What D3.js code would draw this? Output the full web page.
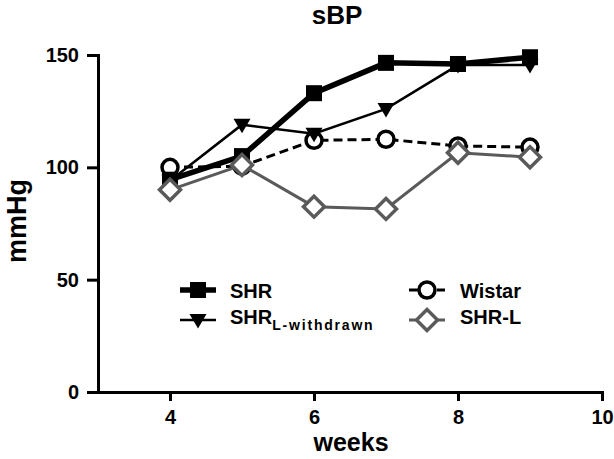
<!DOCTYPE html>
<html><head><meta charset="utf-8">
<script src="https://cdn.jsdelivr.net/npm/d3@7"></script>
<style>
body{margin:0;background:#fff;}
text{font-family:"Liberation Sans",Arial,Helvetica,sans-serif;font-weight:bold;}
</style></head>
<body><svg id="c" width="614" height="459"></svg>
<script>
const weeks = [4,5,6,7,8,9];
const shr = [94.5,105,133,146.5,146,149];
const shrWithdrawn = [94,119,115,126,145.5,145.5];
const wistar = [100,100.5,112,112.5,109.5,109];
const shrL = [90,101,82.5,81.5,106.5,104.5];
const xTicks = [4,6,8,10];
const yTicks = [0,50,100,150];

const svg = d3.select("#c");
const x = d3.scaleLinear().domain([3,10]).range([98,602]);
const y = d3.scaleLinear().domain([0,150]).range([392,55]);

// axes
const xa = svg.append("g").attr("transform","translate(0,392)")
  .call(d3.axisBottom(x).tickValues(xTicks).tickFormat(d3.format("d")).tickSize(9).tickPadding(9).tickSizeOuter(0));
const ya = svg.append("g").attr("transform","translate(98,0)")
  .call(d3.axisLeft(y).tickValues(yTicks).tickFormat(d3.format("d")).tickSize(11).tickPadding(8).tickSizeOuter(0));
[xa,ya].forEach(a=>{
  a.select(".domain").attr("stroke","#000").attr("stroke-width",3).attr("stroke-linecap","square");
  a.selectAll(".tick line").attr("stroke","#000").attr("stroke-width",3);
  a.selectAll(".tick text").attr("fill","#000").style("font-size","20px").style("font-family","Liberation Sans, Arial, sans-serif").style("font-weight","bold");
});

svg.append("text").attr("x",337).attr("y",24).attr("text-anchor","middle").style("font-size","26px").text("sBP");
svg.append("text").attr("x",351).attr("y",451).attr("text-anchor","middle").style("font-size","25px").text("weeks");
svg.append("text").attr("transform","translate(26,221) rotate(-90)").attr("text-anchor","middle").style("font-size","27px").text("mmHg");

const gray = "#5a5a5a";
const series = [
  {vals:wistar, color:"#000", width:3, dash:"9,5", marker:"circle"},
  {vals:shr, color:"#000", width:5.5, dash:null, marker:"square"},
  {vals:shrWithdrawn, color:"#000", width:2.5, dash:null, marker:"triangle"},
  {vals:shrL, color:gray, width:3, dash:null, marker:"diamond"},
];
const line = d3.line().x((d,i)=>x(weeks[i])).y(d=>y(d));

function drawMarker(g, type, cx, cy, color){
  if(type==="square"){
    g.append("rect").attr("x",cx-8).attr("y",cy-8).attr("width",16).attr("height",16).attr("fill","#000");
  } else if(type==="triangle"){
    g.append("path").attr("d",`M${cx-8.5},${cy-6}L${cx+8.5},${cy-6}L${cx},${cy+8.5}Z`).attr("fill","#000");
  } else if(type==="circle"){
    g.append("circle").attr("cx",cx).attr("cy",cy).attr("r",8).attr("fill","#fff").attr("stroke","#000").attr("stroke-width",3.5);
  } else if(type==="diamond"){
    g.append("path").attr("d",`M${cx},${cy-10.5}L${cx+10.5},${cy}L${cx},${cy+10.5}L${cx-10.5},${cy}Z`).attr("fill","#fff").attr("stroke",color).attr("stroke-width",3.5);
  }
}

series.forEach(s=>{
  const g = svg.append("g");
  g.append("path").datum(s.vals).attr("d",line).attr("fill","none")
    .attr("stroke",s.color).attr("stroke-width",s.width).attr("stroke-dasharray",s.dash);
  s.vals.forEach((v,i)=>drawMarker(g,s.marker,x(weeks[i]),y(v),s.color));
});

// legend
const leg = svg.append("g");
function legItem(x0,x1,cy,type,color,width,dash,off){
  leg.append("line").attr("x1",x0).attr("x2",x1).attr("y1",cy).attr("y2",cy)
    .attr("stroke",color).attr("stroke-width",width).attr("stroke-dasharray",dash).attr("stroke-dashoffset",off||0);
  drawMarker(leg,type,(x0+x1)/2,cy,color);
}
legItem(180,216,290,"square","#000",5.5,null);
legItem(180,216,320,"triangle","#000",2.5,null);
legItem(409,445,290,"circle","#000",3,"9,5",0);
legItem(409,445,320,"diamond",gray,3,null);
leg.append("text").attr("x",230).attr("y",298).style("font-size","20px").text("SHR");
const t2 = leg.append("text").attr("x",230).attr("y",324).style("font-size","20px");
t2.append("tspan").text("SHR");
t2.append("tspan").attr("dy",6).style("font-size","14px").style("letter-spacing","1.8px").text("L-withdrawn");
leg.append("text").attr("x",460).attr("y",298).style("font-size","20px").text("Wistar");
leg.append("text").attr("x",460).attr("y",324).style("font-size","20px").text("SHR-L");
</script></body></html>
